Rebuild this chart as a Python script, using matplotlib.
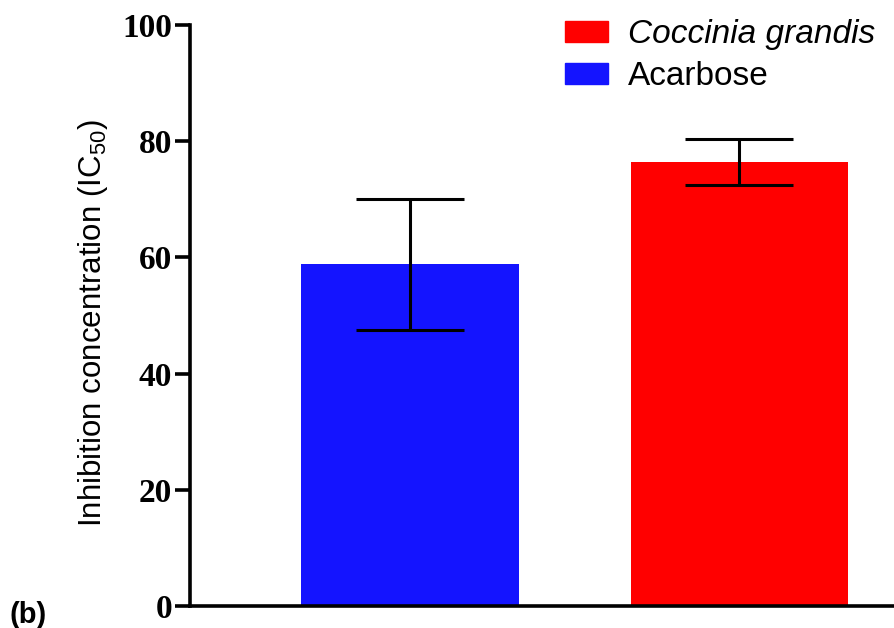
import numpy as np
import matplotlib.pyplot as plt
from matplotlib.patches import Patch

# Values
groups = ['Acarbose', 'Coccinia grandis']
ic50 = [58.8, 76.4]
ic50_err = [11.3, 4.0]
bar_colors = ['#1414ff', '#ff0000']
yticks = [0, 20, 40, 60, 80, 100]

plt.rcParams['mathtext.fontset'] = 'custom'
plt.rcParams['mathtext.rm'] = 'Liberation Sans'

fig = plt.figure(figsize=(8.94, 6.28), dpi=100)
ax = fig.add_axes([0.2125, 0.035, 0.7875, 0.925])

x = np.arange(len(groups))
ax.bar(x, ic50, width=0.66, color=bar_colors, zorder=2)
ax.errorbar(x, ic50, yerr=ic50_err, fmt='none', ecolor='black',
            elinewidth=2.2, capsize=39, capthick=2.2, zorder=3)

ax.set_xlim(-0.668, 1.469)
ax.set_ylim(0, 100)
ax.set_xticks([])
ax.set_yticks(yticks)
ax.set_yticklabels([str(t) for t in yticks], fontfamily='Liberation Serif',
                   fontweight='bold', fontsize=24)
ax.tick_params(axis='y', length=11, width=2.6, pad=2)

for side in ['top', 'right']:
    ax.spines[side].set_visible(False)
for side in ['left', 'bottom']:
    ax.spines[side].set_linewidth(2.6)

ax.set_ylabel(r'Inhibition concentration (IC$_{50}$)', fontfamily='Liberation Sans',
              fontsize=22.5)
ax.yaxis.set_label_coords(-0.114, 0.487)

handles = [Patch(color=bar_colors[1]), Patch(color=bar_colors[0])]
leg = ax.legend(handles, ['Coccinia grandis', 'Acarbose'], loc='upper right',
                bbox_to_anchor=(1.007, 1.05), frameon=False, borderaxespad=0.3,
                prop={'family': 'Liberation Sans', 'size': 24},
                handlelength=1.3, handleheight=0.6, handletextpad=0.6,
                labelspacing=0.32)
leg.get_texts()[0].set_fontstyle('italic')

fig.text(0.011, 0.008, '(b)', fontfamily='Liberation Sans', fontweight='bold',
         fontsize=21)

fig.savefig('out.png', dpi=100)
